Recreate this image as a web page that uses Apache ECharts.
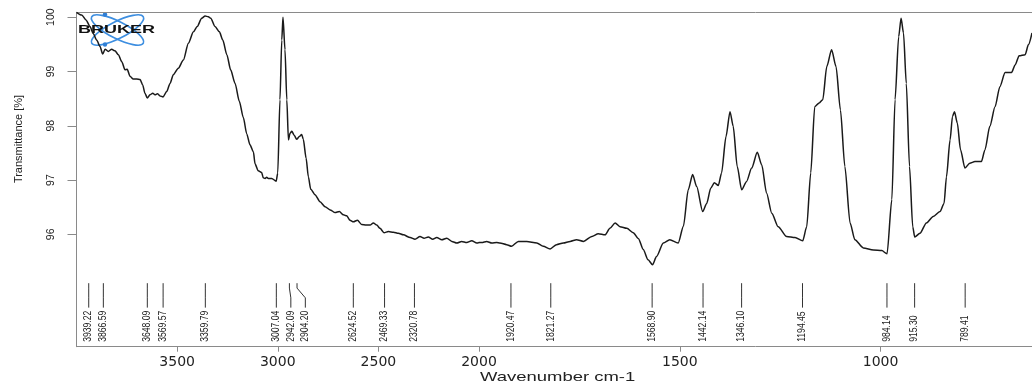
<!DOCTYPE html>
<html>
<head>
<meta charset="utf-8">
<title>IR spectrum</title>
<script src="https://cdn.jsdelivr.net/npm/echarts@6/dist/echarts.min.js"></script>
<style>
  html, body { margin: 0; padding: 0; background: #ffffff; }
  #chart { width: 1032px; height: 392px; }
</style>
</head>
<body>
<div id="chart"></div>
<script>
// Spectrum samples (wavenumber in cm-1, descending) and transmittance in %
const wavenumbers = [
  4000, 3974, 3953, 3933, 3917, 3900, 3883, 3870, 3858, 3842, 3825, 3809, 3792, 3775, 3759, 3748,
  3734, 3718, 3701, 3684, 3671, 3660, 3648, 3635, 3621, 3610, 3598, 3585, 3570, 3552, 3535, 3519,
  3494, 3469, 3444, 3419, 3400, 3378, 3361, 3345, 3333, 3312, 3290, 3273, 3253, 3234, 3212, 3191,
  3171, 3154, 3138, 3121, 3113, 3097, 3080, 3072, 3063, 3055, 3047, 3030, 3008, 3000, 2989, 2980,
  2974, 2964, 2955, 2947, 2939, 2930, 2919, 2906, 2893, 2881, 2873, 2859, 2848, 2836, 2815, 2790,
  2765, 2740, 2715, 2694, 2674, 2657, 2641, 2624, 2604, 2583, 2561, 2541, 2525, 2508, 2492, 2472,
  2450, 2425, 2401, 2376, 2342, 2318, 2293, 2273, 2252, 2230, 2210, 2185, 2160, 2135, 2110, 2086,
  2061, 2036, 2011, 2000,
  1993, 1981, 1968, 1956, 1948, 1931, 1919, 1902, 1881, 1856, 1840, 1823, 1807, 1790, 1773, 1757,
  1740, 1719, 1703, 1686, 1674, 1661, 1649, 1632, 1616, 1603, 1591, 1579, 1568, 1558, 1541, 1525,
  1504, 1491, 1479, 1468, 1458, 1443, 1433, 1423, 1414, 1404, 1396, 1385, 1375, 1367, 1357, 1346,
  1334, 1321, 1307, 1296, 1284, 1271, 1255, 1234, 1213, 1194, 1184, 1174, 1164, 1153, 1144, 1134,
  1122, 1111, 1100, 1089, 1076, 1064, 1043, 1018, 997, 984, 972, 964, 955, 949, 943, 936,
  928, 920, 915, 902, 886, 869, 852, 842, 836, 827, 821, 816, 809, 801, 790, 778,
  765, 749, 740, 728, 715, 703, 690, 674, 665, 655, 640, 632, 623
];
const transmittance = [
  100.09, 100.04, 99.95, 99.83, 99.70, 99.58, 99.46, 99.32, 99.41, 99.37, 99.41, 99.38, 99.31, 99.18, 99.03, 99.04,
  98.91, 98.86, 98.86, 98.85, 98.75, 98.60, 98.51, 98.57, 98.60, 98.57, 98.59, 98.55, 98.53, 98.63, 98.78, 98.94,
  99.06, 99.21, 99.52, 99.73, 99.83, 99.98, 100.02, 100.01, 99.98, 99.83, 99.73, 99.58, 99.31, 99.03, 98.78, 98.45,
  98.15, 97.85, 97.65, 97.52, 97.30, 97.17, 97.14, 97.04, 97.03, 97.05, 97.03, 97.03, 96.98, 97.13, 98.48, 99.58,
  100.00, 99.40, 98.48, 97.74, 97.86, 97.90, 97.83, 97.75, 97.80, 97.84, 97.75, 97.40, 97.06, 96.83, 96.73, 96.60,
  96.51, 96.45, 96.40, 96.42, 96.36, 96.34, 96.26, 96.23, 96.26, 96.18, 96.17, 96.17, 96.21, 96.17, 96.11, 96.03,
  96.05, 96.04, 96.02, 95.99, 95.94, 95.91, 95.96, 95.93, 95.95, 95.91, 95.94, 95.90, 95.93, 95.87, 95.84, 95.87,
  95.85, 95.88, 95.84, 95.85,
  95.85, 95.87, 95.84, 95.85, 95.84, 95.81, 95.78, 95.87, 95.87, 95.84, 95.78, 95.73, 95.81, 95.84, 95.87, 95.90,
  95.87, 95.96, 96.01, 95.99, 96.11, 96.21, 96.14, 96.11, 96.03, 95.92, 95.72, 95.53, 95.44, 95.59, 95.84, 95.90,
  95.84, 96.15, 96.82, 97.10, 96.88, 96.42, 96.57, 96.85, 96.95, 96.90, 97.13, 97.80, 98.26, 97.99, 97.25, 96.82,
  96.97, 97.22, 97.51, 97.28, 96.76, 96.39, 96.14, 95.96, 95.94, 95.88, 96.14, 97.13, 98.35, 98.42, 98.48, 99.09,
  99.40, 99.09, 98.29, 97.25, 96.21, 95.90, 95.75, 95.71, 95.70, 95.64, 96.64, 98.48, 99.64, 99.98, 99.71, 98.78,
  97.25, 96.14, 95.95, 96.02, 96.21, 96.33, 96.42, 96.57, 97.06, 97.74, 98.17, 98.26, 98.05, 97.56, 97.22, 97.31,
  97.34, 97.34, 97.56, 97.99, 98.35, 98.72, 98.98, 98.98, 99.12, 99.29, 99.31, 99.49, 99.71
];

// Picked band positions (cm-1)
const peakWavenumbers = [
  3939.22, 3866.59, 3648.09, 3569.57, 3359.79, 3007.04, 2942.09, 2904.20, 2624.52, 2469.33, 2320.78,
  1920.47, 1821.27, 1568.90, 1442.14, 1346.10, 1194.45, 984.14, 915.30, 789.41
];

// Axis ticks
const upperTicks = [3500, 3000, 2500];
const lowerTicks = [2000, 1500, 1000];
const yTicks = [96, 97, 98, 99, 100];

// The wavenumber scale is compressed above 2000 cm-1: two panels share the y range
const SPLIT = 2000;
const Y_MIN = 93.93, Y_MAX = 100.09;
const AXIS_GREY = '#8a8a8a';
const INK = '#1a1a1a';

const upperData = [], lowerData = [];
wavenumbers.forEach((w, i) => {
  const p = [w, transmittance[i]];
  if (w >= SPLIT) upperData.push(p);
  if (w <= SPLIT) lowerData.push(p);
});
const upperPeaks = peakWavenumbers.filter(w => w > SPLIT);
const lowerPeaks = peakWavenumbers.filter(w => w <= SPLIT);

// Band markers: a short stem, and a rotated label pushed aside when neighbours crowd
const MIN_GAP = 14.5;
function peakSeries(panel, list) {
  return {
    type: 'custom',
    xAxisIndex: panel,
    yAxisIndex: panel,
    silent: true,
    clip: false,
    data: list.map(w => [w, 95]),
    renderItem(params, api) {
      const xs = list.map(w => api.coord([w, 95])[0]);
      const lx = [];
      xs.forEach((x, k) => lx.push(k === 0 ? x : Math.max(x, lx[k - 1] + MIN_GAP)));
      const i = params.dataIndex;
      const yTop = api.coord([list[i], 95.10])[1];
      const yBend1 = api.coord([list[i], 95.01])[1];
      const yBend2 = api.coord([list[i], 94.83])[1];
      const yStemEnd = api.coord([list[i], 94.65])[1];
      const yText = api.coord([list[i], 94.02])[1];
      return {
        type: 'group',
        children: [
          {
            type: 'polyline',
            shape: { points: [[xs[i], yTop], [xs[i], yBend1], [lx[i], yBend2], [lx[i], yStemEnd]] },
            style: { stroke: '#333333', lineWidth: 1, fill: null }
          },
          {
            type: 'text',
            x: lx[i],
            y: yText,
            rotation: Math.PI / 2,
            scaleX: 0.86,
            style: {
              text: list[i].toFixed(2),
              fontSize: 10,
              fontFamily: 'Liberation Sans',
              fill: '#222222',
              align: 'left',
              verticalAlign: 'middle'
            }
          }
        ]
      };
    }
  };
}

function bottomAxis(grid, min, max, ticks) {
  return {
    type: 'value',
    gridIndex: grid,
    min, max,
    inverse: true,
    axisLine: { show: true, onZero: false, lineStyle: { color: AXIS_GREY, width: 1 } },
    axisTick: { show: true, length: 5, customValues: ticks, lineStyle: { color: AXIS_GREY } },
    axisLabel: {
      customValues: ticks,
      formatter: v => String(v),
      margin: 9,
      fontSize: 14,
      fontFamily: 'DejaVu Sans',
      color: '#222222'
    },
    splitLine: { show: false }
  };
}
function topAxis(grid, min, max) {
  return {
    type: 'value',
    gridIndex: grid,
    position: 'top',
    min, max,
    inverse: true,
    axisLine: { show: true, onZero: false, lineStyle: { color: AXIS_GREY, width: 1 } },
    axisTick: { show: false },
    axisLabel: { show: false },
    splitLine: { show: false }
  };
}

const chart = echarts.init(document.getElementById('chart'), null, { renderer: 'canvas' });
chart.setOption({
  animation: false,
  backgroundColor: '#ffffff',
  grid: [
    { left: 76.5, width: 402.5, top: 12.3, bottom: 45.3 },
    { left: 479, right: 0, top: 12.3, bottom: 45.3 }
  ],
  xAxis: [
    bottomAxis(0, 2000, 4000, upperTicks),
    bottomAxis(1, 623, 2000, lowerTicks),
    topAxis(0, 2000, 4000),
    topAxis(1, 623, 2000)
  ],
  yAxis: [
    {
      type: 'value',
      gridIndex: 0,
      min: Y_MIN, max: Y_MAX,
      axisLine: { show: true, lineStyle: { color: AXIS_GREY, width: 1 } },
      axisTick: { show: true, length: 9, customValues: yTicks, lineStyle: { color: AXIS_GREY } },
      axisLabel: {
        customValues: yTicks,
        rotate: 90,
        margin: 20,
        fontSize: 10.5,
        fontFamily: 'Liberation Sans',
        color: '#222222'
      },
      splitLine: { show: false }
    },
    { type: 'value', gridIndex: 1, min: Y_MIN, max: Y_MAX, show: false, splitLine: { show: false } }
  ],
  series: [
    {
      type: 'line', xAxisIndex: 0, yAxisIndex: 0, data: upperData,
      showSymbol: false, smooth: 0.25, smoothMonotone: 'x',
      lineStyle: { color: INK, width: 1.5 }, silent: true
    },
    {
      type: 'line', xAxisIndex: 1, yAxisIndex: 1, data: lowerData,
      showSymbol: false, smooth: 0.25, smoothMonotone: 'x',
      lineStyle: { color: INK, width: 1.5 }, silent: true
    },
    peakSeries(0, upperPeaks),
    peakSeries(1, lowerPeaks)
  ],
  graphic: [
    {
      type: 'text', x: 480, y: 377, scaleX: 1.42,
      style: { text: 'Wavenumber cm-1', fontSize: 13, fontFamily: 'Liberation Sans', fill: '#222222', align: 'left', verticalAlign: 'middle' }
    },
    {
      type: 'text', x: 19, y: 139, rotation: Math.PI / 2,
      style: { text: 'Transmittance [%]', fontSize: 11, fontFamily: 'Liberation Sans', fill: '#222222', align: 'center', verticalAlign: 'middle' }
    },
    // BRUKER logo: two crossing orbits with electrons and the word mark
    {
      type: 'group', z: 100,
      children: [
        { type: 'ellipse', x: 117.5, y: 30, rotation: -0.47, shape: { cx: 0, cy: 0, rx: 29, ry: 8.5 }, style: { fill: null, stroke: '#3d8ee0', lineWidth: 1.6 } },
        { type: 'ellipse', x: 117.5, y: 30, rotation: 0.47, shape: { cx: 0, cy: 0, rx: 29, ry: 8.5 }, style: { fill: null, stroke: '#3d8ee0', lineWidth: 1.6 } },
        { type: 'circle', shape: { cx: 105, cy: 14.5, r: 2.2 }, style: { fill: '#2f7fd6' } },
        { type: 'circle', shape: { cx: 105, cy: 44.5, r: 2.2 }, style: { fill: '#2f7fd6' } },
        {
          type: 'text', x: 78, y: 30.5, scaleX: 1.8,
          style: { text: 'BRUKER', fontSize: 10, fontWeight: 'bold', fontFamily: 'Liberation Sans', fill: '#111111', align: 'left', verticalAlign: 'middle' }
        }
      ]
    }
  ]
});
</script>
</body>
</html>
